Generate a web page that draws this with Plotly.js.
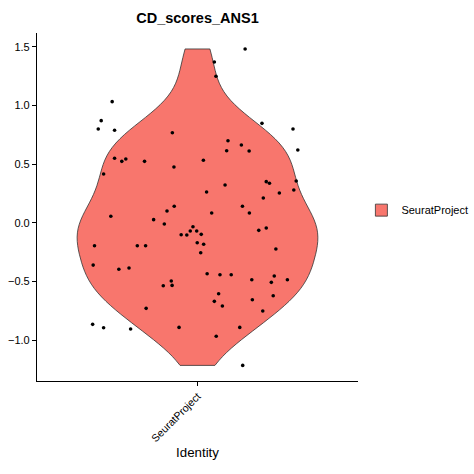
<!DOCTYPE html>
<html>
<head>
<meta charset="utf-8">
<script src="https://cdn.plot.ly/plotly-3.0.1.min.js"></script>
<style>html,body{margin:0;padding:0;background:#fff;}#chart{width:474px;height:474px;}</style>
</head>
<body>
<div id="chart"></div>
<script>
const titleText = "CD_scores_ANS1";
const groupName = "SeuratProject";
const xTitle = "Identity";
const yTicks = [-1.0, -0.5, 0.0, 0.5, 1.0, 1.5];

// Score values per cell
const scores = [
  1.481, 1.370, 1.248, 1.032, 0.870, 0.799, 0.788, 0.767, 0.847, 0.799,
  0.620, 0.699, 0.662, 0.614, 0.611, 0.549, 0.543, 0.523, 0.523, 0.532,
  0.475, 0.415, 0.321, 0.350, 0.336, 0.356, 0.262, 0.253, 0.279, 0.211,
  0.140, 0.140, 0.100, 0.083, 0.083, 0.055, 0.026, -0.011, -0.034, -0.071,
  -0.071, -0.099, -0.102, -0.105, -0.065, -0.045, -0.196, -0.196, -0.196, -0.171,
  -0.184, -0.256, -0.224, -0.361, -0.397, -0.386, -0.435, -0.443, -0.443, -0.486,
  -0.454, -0.486, -0.508, -0.497, -0.537, -0.534, -0.605, -0.670, -0.710, -0.656,
  -0.622, -0.730, -0.753, -0.866, -0.895, -0.906, -0.892, -0.892, -0.968, -1.216
];
// Horizontal jitter of each point (category units)
const jitter = [
  0.178, 0.063, 0.069, -0.319, -0.360, -0.371, -0.310, -0.094, 0.241, 0.357,
  0.375, 0.114, 0.164, 0.109, 0.193, -0.310, -0.268, -0.283, -0.198, 0.022,
  -0.088, -0.351, 0.103, 0.257, 0.269, 0.369, 0.034, 0.306, 0.360, 0.246,
  -0.087, 0.168, -0.114, 0.053, 0.194, -0.324, -0.164, -0.124, -0.017, -0.027,
  -0.003, 0.014, -0.061, -0.040, 0.229, 0.257, -0.385, -0.225, -0.194, -0.001,
  0.023, 0.012, 0.293, -0.390, -0.294, -0.256, 0.036, 0.084, 0.126, 0.203,
  0.287, 0.336, 0.276, -0.098, -0.128, -0.095, 0.079, 0.063, 0.093, 0.205,
  0.283, -0.192, 0.244, -0.392, -0.351, -0.250, -0.069, 0.158, 0.070, 0.169
];

const groupPos = 1;

// R's bw.nrd0 bandwidth, as ggplot's geom_violin uses
function quantile7(sorted, p) {
  const h = (sorted.length - 1) * p;
  const lo = Math.floor(h), hi = Math.ceil(h);
  return sorted[lo] + (h - lo) * (sorted[hi] - sorted[lo]);
}
function nrd0(v) {
  const n = v.length;
  const mean = v.reduce((a, b) => a + b, 0) / n;
  const sd = Math.sqrt(v.reduce((a, b) => a + (b - mean) * (b - mean), 0) / (n - 1));
  const s = v.slice().sort((a, b) => a - b);
  const iqr = quantile7(s, 0.75) - quantile7(s, 0.25);
  return 0.9 * Math.min(sd, iqr / 1.34) * Math.pow(n, -0.2);
}

const violin = {
  type: 'violin',
  y: scores,
  x0: groupPos,
  name: groupName,
  width: 0.9,
  bandwidth: nrd0(scores),
  spanmode: 'hard',
  points: false,
  box: {visible: false},
  meanline: {visible: false},
  fillcolor: '#F8766D',
  opacity: 1,
  line: {color: '#333333', width: 0.8},
  hoveron: 'violins',
  showlegend: true
};

const pts = {
  type: 'scatter',
  mode: 'markers',
  x: jitter.map(d => groupPos + d),
  y: scores,
  marker: {color: '#000000', size: 3.6},
  showlegend: false,
  hoverinfo: 'y'
};

const layout = {
  width: 474, height: 474,
  margin: {l: 37, r: 116, t: 33, b: 93, autoexpand: false},
  paper_bgcolor: '#ffffff',
  plot_bgcolor: '#ffffff',
  font: {family: 'Liberation Sans, Arial, sans-serif', color: '#000000', size: 11},
  title: {
    text: '<b>' + titleText + '</b>',
    font: {size: 14.5, color: '#000000'},
    x: 0.5, xref: 'paper', xanchor: 'center',
    y: 1 - 18 / 474, yref: 'container', yanchor: 'middle'
  },
  xaxis: {
    range: [0.4, 1.6],
    tickvals: [groupPos],
    ticktext: [groupName],
    tickangle: -45,
    ticks: 'outside', ticklen: 4, tickcolor: '#000', tickwidth: 1,
    showline: true, linecolor: '#000', linewidth: 1.1,
    showgrid: false, zeroline: false,
    tickfont: {size: 10.6, color: '#000'},
    title: {text: xTitle, font: {size: 13.3, color: '#000'}, standoff: 4}
  },
  yaxis: {
    range: [-1.349, 1.617],
    tickvals: yTicks,
    tickformat: '.1f',
    ticks: 'outside', ticklen: 4, tickcolor: '#000', tickwidth: 1,
    showline: true, linecolor: '#000', linewidth: 1.1,
    showgrid: false, zeroline: false,
    tickfont: {size: 11, color: '#000'}
  },
  legend: {
    x: 1.0106, xanchor: 'left', y: 0.491, yanchor: 'middle',
    font: {size: 11, color: '#000'},
    bgcolor: 'rgba(0,0,0,0)'
  },
  showlegend: true
};

Plotly.newPlot('chart', [violin, pts], layout, {staticPlot: true, displayModeBar: false});
</script>
</body>
</html>
